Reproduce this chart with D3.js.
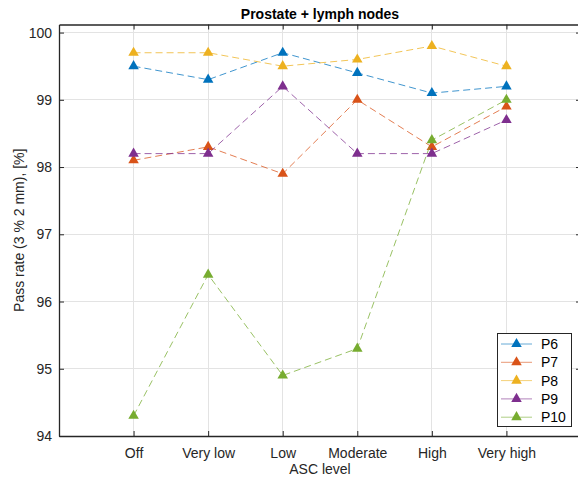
<!DOCTYPE html>
<html>
<head>
<meta charset="utf-8">
<script src="https://cdn.jsdelivr.net/npm/d3@7"></script>
<style>
  html, body { margin: 0; padding: 0; background: #fff; overflow: hidden; }
  svg { display: block; font-family: "Liberation Sans", Arial, Helvetica, sans-serif; }
</style>
</head>
<body>
<svg id="chart" width="578" height="480"></svg>
<script>
const categories = ["Off", "Very low", "Low", "Moderate", "High", "Very high"];
const seriesNames = ["P6", "P7", "P8", "P9", "P10"];
const seriesColors = ["#0072BD", "#D95319", "#EDB120", "#7E2F8E", "#77AC30"];
const P6 = [99.5, 99.3, 99.7, 99.4, 99.1, 99.2];
const P7 = [98.1, 98.3, 97.9, 99.0, 98.3, 98.9];
const P8 = [99.7, 99.7, 99.5, 99.6, 99.8, 99.5];
const P9 = [98.2, 98.2, 99.2, 98.2, 98.2, 98.7];
const P10 = [94.3, 96.4, 94.9, 95.3, 98.4, 99.0];
const yTicks = [94, 95, 96, 97, 98, 99, 100];
const seriesValues = [P6, P7, P8, P9, P10];

(function () {
const svg = d3.select("#chart");
const pL = 59, pR = 581, pT = 24.5, pB = 436;
const axisColor = "#262626";

const x = d3.scaleLinear().domain([0, categories.length + 1]).range([pL, pR]);
const y = d3.scaleLinear().domain([94, 100.12]).range([pB, pT]);
const xPos = i => x(i + 1);

// grid
const grid = svg.append("g");
categories.forEach((c, i) => {
  grid.append("line").attr("x1", xPos(i)).attr("x2", xPos(i)).attr("y1", pT).attr("y2", pB)
    .attr("stroke", "#e3e3e3").attr("stroke-width", 1).attr("shape-rendering", "crispEdges");
});
yTicks.forEach(t => {
  grid.append("line").attr("x1", pL).attr("x2", pR).attr("y1", y(t)).attr("y2", y(t))
    .attr("stroke", "#e3e3e3").attr("stroke-width", 1).attr("shape-rendering", "crispEdges");
});

// axes via d3
const xAxis = d3.axisBottom(x).tickValues(categories.map((c, i) => i + 1))
  .tickFormat(d => categories[d - 1]).tickSizeInner(-5).tickSizeOuter(0).tickPadding(12);
const yAxis = d3.axisLeft(y).tickValues(yTicks).tickFormat(d3.format("d"))
  .tickSizeInner(-5).tickSizeOuter(0).tickPadding(7);
const xTop = d3.axisTop(x).tickValues(categories.map((c, i) => i + 1)).tickFormat("")
  .tickSizeInner(-5).tickSizeOuter(0);
const yRight = d3.axisRight(y).tickValues(yTicks).tickFormat("").tickSizeInner(-5).tickSizeOuter(0);

function style(g) {
  g.select(".domain").attr("stroke", axisColor).attr("stroke-width", 1.3);
  g.selectAll(".tick line").attr("stroke", axisColor).attr("stroke-width", 1);
  g.selectAll(".tick text").attr("fill", axisColor).attr("font-size", 14)
    .attr("font-family", "\"Liberation Sans\", Arial, Helvetica, sans-serif");
}
svg.append("g").attr("transform", `translate(0,${pB})`).call(xAxis).call(style);
svg.append("g").attr("transform", `translate(${pL},0)`).call(yAxis).call(style);
svg.append("g").attr("transform", `translate(0,${pT})`).call(xTop).call(style);
svg.append("g").attr("transform", `translate(${pR},0)`).call(yRight).call(style);

// series
const line = d3.line().x((d, i) => xPos(i)).y(d => y(d));
const tri = d3.symbol().type(d3.symbolTriangle).size(48);
seriesValues.forEach((vals, k) => {
  const g = svg.append("g");
  g.append("path").datum(vals).attr("d", line).attr("fill", "none")
    .attr("stroke", seriesColors[k]).attr("stroke-width", 1).attr("stroke-opacity", 0.75)
    .attr("stroke-dasharray", "7,4");
  g.selectAll("path.m").data(vals).enter().append("path").attr("class", "m")
    .attr("d", tri).attr("transform", (d, i) => `translate(${xPos(i)},${y(d)})`)
    .attr("fill", seriesColors[k]);
});

// title & labels
svg.append("text").attr("x", (pL + pR) / 2).attr("y", 19).attr("text-anchor", "middle")
  .attr("font-size", 14).attr("font-weight", "bold").attr("fill", "#000").text("Prostate + lymph nodes");
svg.append("text").attr("x", (pL + pR) / 2).attr("y", 474).attr("text-anchor", "middle")
  .attr("font-size", 14).attr("fill", axisColor).text("ASC level");
svg.append("text").attr("transform", `translate(24,${(pT + pB) / 2}) rotate(-90)`)
  .attr("text-anchor", "middle").attr("font-size", 14).attr("fill", axisColor)
  .text("Pass rate (3 % 2 mm), [%]");

// legend
const lg = svg.append("g");
lg.append("rect").attr("x", 497.5).attr("y", 333.5).attr("width", 74).attr("height", 93)
  .attr("fill", "#fff").attr("stroke", axisColor).attr("stroke-width", 1);
seriesNames.forEach((n, k) => {
  const yy = 344 + k * 18.3;
  lg.append("line").attr("x1", 501).attr("x2", 532).attr("y1", yy).attr("y2", yy)
    .attr("stroke", seriesColors[k]).attr("stroke-opacity", 0.6).attr("stroke-width", 1);
  lg.append("path").attr("d", tri).attr("transform", `translate(516.5,${yy})`).attr("fill", seriesColors[k]);
  lg.append("text").attr("x", 541).attr("y", yy + 5).attr("font-size", 14).attr("fill", "#000").text(n);
});
})();
</script>
</body>
</html>
